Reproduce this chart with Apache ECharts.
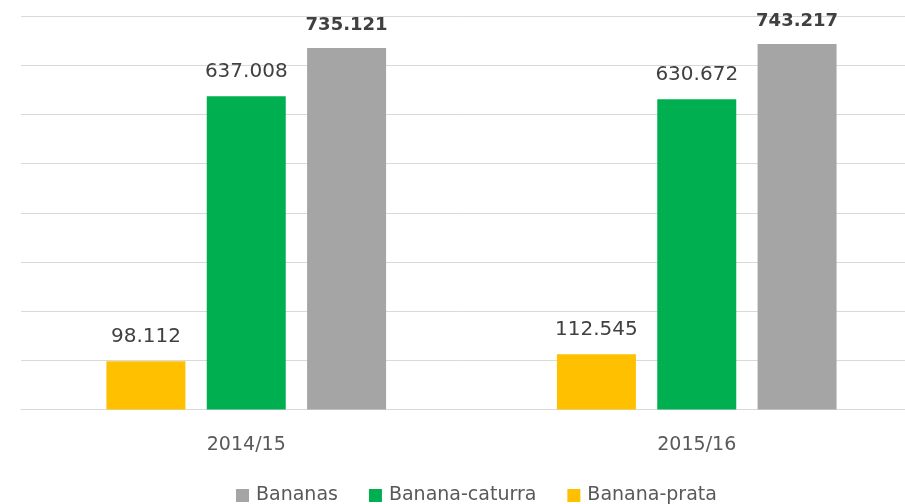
<!DOCTYPE html>
<html>
<head>
<meta charset="utf-8">
<script src="https://cdn.jsdelivr.net/npm/echarts@6/dist/echarts.min.js"></script>
<style>
html, body { margin: 0; padding: 0; background: #fff; }
#main { width: 905px; height: 504px; }
</style>
</head>
<body>
<div id="main"></div>
<script>
var safras = ['2014/15', '2015/16'];        // categorias (eixo X)
var prata = [98.112, 112.545];               // Banana-prata
var caturra = [637.008, 630.672];            // Banana-caturra
var bananas = [735.121, 743.217];            // Bananas (total)
var legendNames = ['Bananas', 'Banana-caturra', 'Banana-prata'];

var myChart = echarts.init(document.getElementById('main'));

function rotulo(bold) {
    return {
        show: true,
        position: 'top',
        distance: 14,
        fontFamily: 'DejaVu Sans',
        fontSize: bold ? 18 : 20,
        fontWeight: bold ? 'bold' : 'normal',
        color: '#404040',
        formatter: function (p) { return p.value.toFixed(3); }
    };
}

myChart.setOption({
    animation: false,
    grid: { left: 21, right: -17, top: 16, bottom: 94.5, outerBoundsMode: 'none', containLabel: false },
    legend: {
        data: legendNames,
        left: 231,
        top: 481,
        itemWidth: 13,
        itemHeight: 13,
        itemGap: 31,
        icon: 'rect',
        textStyle: { fontFamily: 'DejaVu Sans', fontSize: 19, color: '#595959', padding: [0, 0, 0, 2] }
    },
    xAxis: {
        type: 'category',
        data: safras,
        axisLine: { lineStyle: { color: '#D9D9D9' } },
        axisTick: { show: false },
        axisLabel: { margin: 26, fontFamily: 'DejaVu Sans', fontSize: 19, color: '#595959' }
    },
    yAxis: {
        type: 'value',
        min: 0,
        max: 800,
        interval: 100,
        axisLabel: { show: false },
        axisLine: { show: false },
        axisTick: { show: false },
        splitLine: { lineStyle: { color: '#D9D9D9' } }
    },
    series: [
        { name: 'Banana-prata', type: 'bar', data: prata, barWidth: 79, barGap: '27%',
          itemStyle: { color: '#FFC000' }, label: rotulo(false) },
        { name: 'Banana-caturra', type: 'bar', data: caturra, barWidth: 79, barGap: '27%',
          itemStyle: { color: '#00B050' }, label: rotulo(false) },
        { name: 'Bananas', type: 'bar', data: bananas, barWidth: 79, barGap: '27%',
          itemStyle: { color: '#A5A5A5' }, label: rotulo(true) }
    ]
});
</script>
</body>
</html>
